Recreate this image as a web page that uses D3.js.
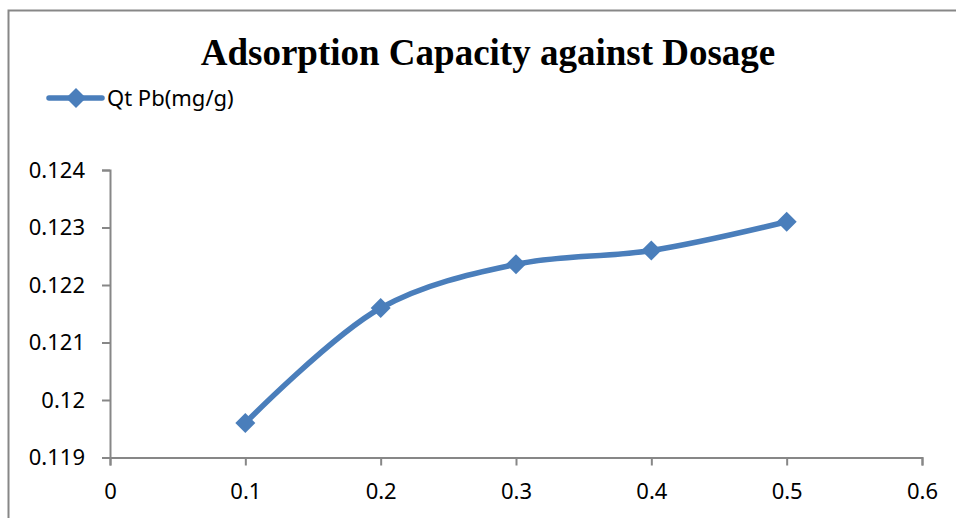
<!DOCTYPE html>
<html>
<head>
<meta charset="utf-8">
<script src="https://cdn.jsdelivr.net/npm/d3@7"></script>
<style>
  body { margin: 0; background: #fff; }
  text { font-family: "Noto Sans", "Open Sans", sans-serif; }
</style>
</head>
<body>
<svg id="chart" width="956" height="518"></svg>
<script>
// chart data
var dosage = [0.1, 0.2, 0.3, 0.4, 0.5];
var qtPb = [0.1196, 0.1216, 0.12236, 0.1226, 0.1231];
var xTicks = [0, 0.1, 0.2, 0.3, 0.4, 0.5, 0.6];
var yTicks = [0.119, 0.12, 0.121, 0.122, 0.123, 0.124];
var seriesName = "Qt Pb(mg/g)";
var title = "Adsorption Capacity against Dosage";

var blue = "#4a7ebb";
var grey = "#878787";

var svg = d3.select("#chart");

// outer chart border
svg.append("rect")
  .attr("x", 8.5).attr("y", 10.5)
  .attr("width", 960).attr("height", 520)
  .attr("fill", "none")
  .attr("stroke", grey)
  .attr("stroke-width", 2);

var x = d3.scaleLinear().domain([0, 0.6]).range([110, 922]);
var y = d3.scaleLinear().domain([0.119, 0.124]).range([457.5, 170]);

// axes
var xAxis = svg.append("g")
  .attr("transform", "translate(0," + y(0.119) + ")")
  .call(d3.axisBottom(x).tickValues(xTicks).tickSize(8).tickPadding(18)
    .tickFormat(function(d){ return String(+d.toFixed(1)); }));
var yAxis = svg.append("g")
  .attr("transform", "translate(" + x(0) + ",0)")
  .call(d3.axisLeft(y).tickValues(yTicks).tickSize(8).tickPadding(17)
    .tickFormat(function(d){ return String(+d.toFixed(3)); }));

[xAxis, yAxis].forEach(function(a){
  a.select(".domain").attr("stroke", grey).attr("stroke-width", 2);
  a.selectAll(".tick line").attr("stroke", grey).attr("stroke-width", 2);
  a.selectAll(".tick text").attr("fill", "#000")
    .style("font-size", "22px")
    .style("font-family", "'Noto Sans', 'Open Sans', sans-serif");
});

// series line
var pts = dosage.map(function(d, i){ return [x(d), y(qtPb[i])]; });
svg.append("path")
  .datum(pts)
  .attr("d", d3.line().curve(d3.curveCatmullRom.alpha(0.5)))
  .attr("fill", "none")
  .attr("stroke", blue)
  .attr("stroke-width", 5.5)
  .attr("stroke-linejoin", "round");

var diamond = d3.symbol().type(d3.symbolSquare).size(200);
svg.selectAll(".marker")
  .data(pts)
  .enter().append("path")
  .attr("class", "marker")
  .attr("d", diamond)
  .attr("transform", function(p){ return "translate(" + p[0] + "," + p[1] + ") rotate(45)"; })
  .attr("fill", blue);

// title
svg.append("text")
  .attr("x", 488).attr("y", 65)
  .attr("text-anchor", "middle")
  .style("font-family", "'Liberation Serif', 'Times New Roman', serif")
  .style("font-weight", "bold")
  .style("font-size", "37px")
  .text(title);

// legend
var legend = svg.append("g");
legend.append("line")
  .attr("x1", 49).attr("x2", 102)
  .attr("y1", 98).attr("y2", 98)
  .attr("stroke", blue).attr("stroke-width", 5.5)
  .attr("stroke-linecap", "round");
legend.append("path")
  .attr("d", diamond)
  .attr("transform", "translate(76,98) rotate(45)")
  .attr("fill", blue);
legend.append("text")
  .attr("x", 107).attr("y", 106)
  .style("font-size", "22px")
  .text(seriesName);
</script>
</body>
</html>
